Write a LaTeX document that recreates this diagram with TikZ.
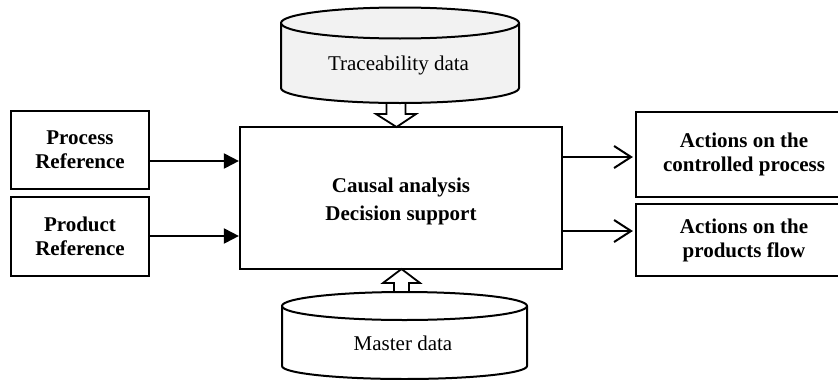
\documentclass[tikz,border=0pt]{standalone}
\usepackage{fontspec}
\setmainfont{Liberation Serif}
\usetikzlibrary{arrows.meta,calc}
\begin{document}
\begin{tikzpicture}[x=1pt,y=-1pt,line width=2pt,
  box/.style={draw,line width=2.2pt,align=center,inner sep=0pt,
    font=\bfseries\fontsize{21}{24}\selectfont},
  boxtext/.style={align=center,inner sep=0pt,
    font=\bfseries\fontsize{21}{28}\selectfont},
  plain/.style={align=center,inner sep=0pt,font=\fontsize{21}{24}\selectfont},
  cyl/.style={draw,line width=2pt},
  hollow/.style={draw,fill=white,line width=1.8pt,line join=miter},
  inarrow/.style={-{Triangle[length=15pt,width=15pt]},line width=2pt},
  outarrow/.style={-{Straight Barb[length=17pt,width=22pt]},line width=2pt}]
\useasboundingbox (0,0) rectangle (838,380);

% main box
\node[box,minimum width=322pt,minimum height=142pt] (main) at (401,198) {};
\node[boxtext] (maintext) at ($(main.center)+(0,3)$) {Causal analysis\\Decision support};

% left boxes
\node[box,minimum width=138pt,minimum height=78pt] (proc) at (80,150) {Process\\Reference};
\node[box,minimum width=138pt,minimum height=79pt] (prod) at (80,236.5) {Product\\Reference};

% right boxes
\node[box,minimum width=216pt,minimum height=85pt] (act1) at (744,154.5) {Actions on the\\controlled process};
\node[box,minimum width=216pt,minimum height=72pt] (act2) at (744,240) {Actions on the\\products flow};

% arrow levels
\coordinate (y1) at (0,161);
\coordinate (y2) at (0,236);
\coordinate (y3) at (0,157);
\coordinate (y4) at (0,231);

\draw[inarrow] (proc.east |- y1) -- (main.west |- y1);
\draw[inarrow] (prod.east |- y2) -- (main.west |- y2);
\draw[outarrow] (main.east |- y3) -- ([xshift=-2pt]act1.west |- y3);
\draw[outarrow] (main.east |- y4) -- ([xshift=-2pt]act2.west |- y4);

% hollow arrows
\coordinate (td) at (396.5,127);
\draw[hollow] (td) -- ++(-20.5,-13) -- ++(10.5,0) -- ++(0,-16) -- ++(19,0) -- ++(0,16) -- ++(10.5,0) -- cycle;
\coordinate (tu) at (401.5,269);
\draw[hollow] (tu) -- ++(-18.5,14) -- ++(11,0) -- ++(0,16) -- ++(15,0) -- ++(0,-16) -- ++(11,0) -- cycle;

% top cylinder (Traceability data)
\draw[cyl,fill=gray!10] (281,23) -- (281,88)
  arc[start angle=180,end angle=360,x radius=119pt,y radius=15pt] -- (519,23)
  arc[start angle=0,end angle=180,x radius=119pt,y radius=15.5pt] -- cycle;
\draw[cyl] (281,23) arc[start angle=180,end angle=360,x radius=119pt,y radius=15.5pt];
\node[plain] (trace) at (398.5,65) {Traceability data};

% bottom cylinder (Master data)
\draw[cyl,fill=white] (282,306) -- (282,366)
  arc[start angle=180,end angle=360,x radius=122.5pt,y radius=13pt] -- (527,306)
  arc[start angle=0,end angle=180,x radius=122.5pt,y radius=14pt] -- cycle;
\draw[cyl] (282,306) arc[start angle=180,end angle=360,x radius=122.5pt,y radius=14pt];
\node[plain] (master) at (403,343) {Master data};
\end{tikzpicture}
\end{document}
